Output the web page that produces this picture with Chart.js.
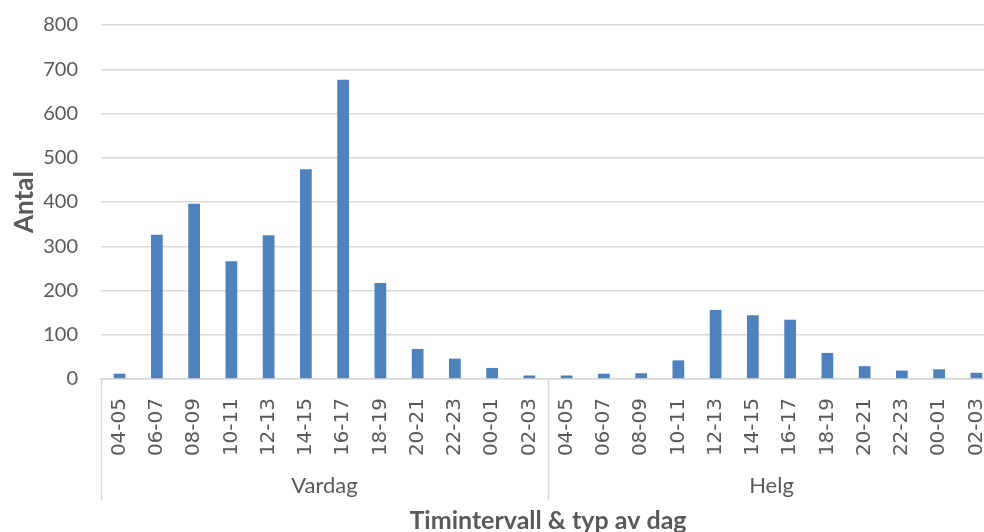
<!DOCTYPE html>
<html lang="sv">
<head>
<meta charset="utf-8">
<title>Antal per timintervall</title>
<script src="https://cdn.jsdelivr.net/npm/chart.js@4/dist/chart.umd.min.js"></script>
<style>
  html, body {
    margin: 0;
    padding: 0;
    background: #ffffff;
    overflow: hidden;
  }
  .chart-box {
    position: relative;
    width: 995px;
    height: 532px;
  }
</style>
</head>
<body>
<div class="chart-box">
  <canvas id="hourChart"></canvas>
</div>
<script>
const hourLabels = ["04-05", "06-07", "08-09", "10-11", "12-13", "14-15", "16-17", "18-19", "20-21", "22-23", "00-01", "02-03"];
const dayTypes = ["Vardag", "Helg"];
const vardagValues = [12, 326, 396, 266, 325, 474, 676, 217, 68, 46, 25, 8];
const helgValues = [8, 12, 13, 42, 156, 144, 134, 59, 29, 19, 22, 14];
const yTicks = [0, 100, 200, 300, 400, 500, 600, 700, 800];

const TEXT_GREY = "#595959";
const LINE_GREY = "#d9d9d9";

document.addEventListener("DOMContentLoaded", () => {
  initHourChart();
});

// draws the Vardag / Helg band under the hour labels
const dayTypeBand = {
  id: "dayTypeBand",
  afterDraw(chart) {
    const { ctx, chartArea } = chart;
    const xScale = chart.scales.x;
    const groupSize = hourLabels.length;
    const bandBottom = 500;

    const edges = [xScale.left];
    for (let g = 1; g < dayTypes.length; g++) {
      const last = xScale.getPixelForValue(g * groupSize - 1);
      const next = xScale.getPixelForValue(g * groupSize);
      edges.push((last + next) / 2);
    }
    edges.push(xScale.right);

    ctx.save();
    ctx.strokeStyle = LINE_GREY;
    ctx.lineWidth = 1.5;
    edges.forEach((x) => {
      ctx.beginPath();
      ctx.moveTo(Math.round(x) + 0.5, chartArea.bottom);
      ctx.lineTo(Math.round(x) + 0.5, bandBottom);
      ctx.stroke();
    });

    ctx.fillStyle = TEXT_GREY;
    ctx.font = "22px Lato";
    ctx.textAlign = "center";
    ctx.textBaseline = "middle";
    dayTypes.forEach((name, i) => {
      ctx.fillText(name, (edges[i] + edges[i + 1]) / 2, 486);
    });
    ctx.restore();
  }
};

function initHourChart() {
  const canvas = document.getElementById("hourChart");
  if (!canvas) return;

  const labels = hourLabels.concat(hourLabels);
  const values = vardagValues.concat(helgValues);

  new Chart(canvas, {
    type: "bar",
    data: {
      labels,
      datasets: [
        {
          label: "Antal",
          data: values,
          backgroundColor: "#4f81bd",
          borderWidth: 0,
          barPercentage: 1,
          categoryPercentage: 0.315
        }
      ]
    },
    plugins: [dayTypeBand],
    options: {
      responsive: true,
      maintainAspectRatio: false,
      animation: false,
      layout: {
        padding: { top: 25, left: 0, right: 0, bottom: 0 }
      },
      plugins: {
        legend: { display: false },
        tooltip: { enabled: false }
      },
      scales: {
        x: {
          offset: true,
          grid: { display: false, drawTicks: false },
          border: { display: true, color: LINE_GREY, width: 1.5 },
          ticks: {
            autoSkip: false,
            minRotation: 90,
            maxRotation: 90,
            padding: 19,
            color: TEXT_GREY,
            font: { family: "DejaVu Sans", size: 20 }
          },
          title: {
            display: true,
            text: "Timintervall & typ av dag",
            color: TEXT_GREY,
            font: { family: "Lato", size: 25, weight: "bold" },
            padding: { top: 0, bottom: -4 }
          },
          afterFit(scale) {
            scale.height = 153;
            scale.paddingLeft = 0;
            scale.paddingRight = 0;
          }
        },
        y: {
          min: 0,
          max: 800,
          afterBuildTicks(scale) {
            scale.ticks = yTicks.map((value) => ({ value }));
          },
          grid: { color: LINE_GREY, lineWidth: 1.5, drawTicks: false },
          border: { display: false },
          ticks: {
            padding: 23,
            color: TEXT_GREY,
            font: { family: "Lato", size: 20 }
          },
          title: {
            display: true,
            text: "Antal",
            color: TEXT_GREY,
            font: { family: "Lato", size: 26, weight: "bold" },
            padding: { top: 9, bottom: 0 }
          },
          afterFit(scale) {
            scale.width = 101;
            scale.paddingTop = 0;
            scale.paddingBottom = 0;
          }
        }
      }
    }
  });
}
</script>
</body>
</html>
